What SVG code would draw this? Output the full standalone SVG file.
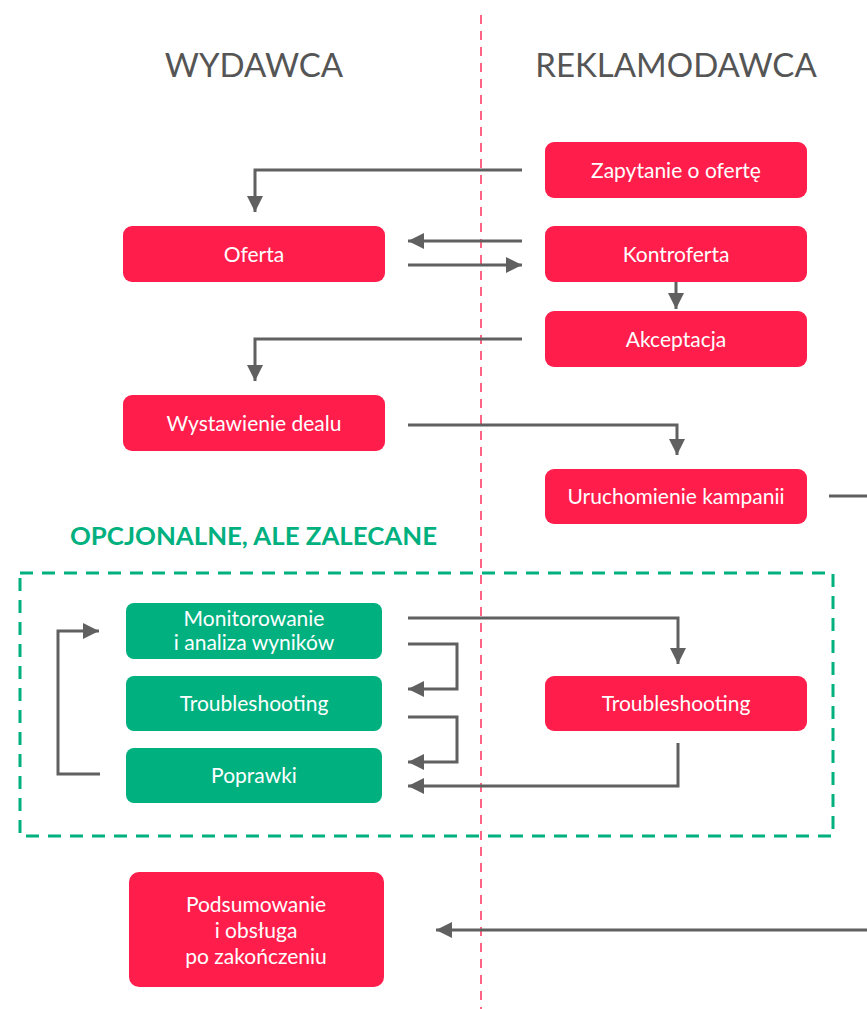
<svg xmlns="http://www.w3.org/2000/svg" width="867" height="1009" viewBox="0 0 867 1009">
<style>
.hdr{font-family:Lato,"Liberation Sans",sans-serif;font-size:33px;fill:#555;text-anchor:middle}
.red{fill:#ff1e4b}
.grn{fill:#00b07f}
.t{font-family:Lato,"Liberation Sans",sans-serif;font-size:21px;fill:#fff;text-anchor:middle}
.c{fill:none;stroke:#606060;stroke-width:3;marker-end:url(#ah)}
.cn{fill:none;stroke:#606060;stroke-width:3}
.lbl{font-family:Lato,"Liberation Sans",sans-serif;font-size:25px;font-weight:bold;fill:#00b07f}
</style>
<defs>
<marker id="ah" markerUnits="userSpaceOnUse" markerWidth="18" markerHeight="18" viewBox="0 0 18 18" refX="16" refY="9" orient="auto">
<path d="M0,1 L16,9 L0,17 Z" fill="#606060"/>
</marker>
</defs>
<rect width="867" height="1009" fill="#fff"/>
<line x1="481" y1="15" x2="481" y2="1009" stroke="#ff6484" stroke-width="2" stroke-dasharray="9,7"/>
<text class="hdr" x="254" y="77">WYDAWCA</text>
<text class="hdr" x="676" y="77">REKLAMODAWCA</text>
<text class="lbl" x="70" y="545" textLength="367" lengthAdjust="spacingAndGlyphs">OPCJONALNE, ALE ZALECANE</text>
<rect x="20" y="573" width="813" height="263" fill="none" stroke="#00b07f" stroke-width="3" stroke-dasharray="13,9"/>
<g id="connectors">
<path class="c" d="M522,170 H255 V212"/>
<path class="c" d="M522,241 H408"/>
<path class="c" d="M408,265 H522"/>
<path class="c" d="M676,282 V309"/>
<path class="c" d="M522,339 H255 V381"/>
<path class="c" d="M408,425 H677 V455"/>
<path class="cn" d="M829,496 H867"/>
<path class="c" d="M408,618 H678 V664"/>
<path class="c" d="M408,644 H457 V689 H408"/>
<path class="c" d="M408,717 H457 V762 H408"/>
<path class="c" d="M678,743 V786 H408"/>
<path class="c" d="M100,774 H58 V631 H99"/>
<path class="c" d="M867,930 H436"/>
</g>
<g id="n1"><rect class="red" x="545" y="142" width="262" height="56" rx="9"/><text class="t" x="676" y="178">Zapytanie o ofertę</text></g>
<g id="n2"><rect class="red" x="123" y="226" width="262" height="56" rx="9"/><text class="t" x="254" y="262">Oferta</text></g>
<g id="n3"><rect class="red" x="545" y="226" width="262" height="56" rx="9"/><text class="t" x="676" y="262">Kontroferta</text></g>
<g id="n4"><rect class="red" x="545" y="311" width="262" height="56" rx="9"/><text class="t" x="676" y="347">Akceptacja</text></g>
<g id="n5"><rect class="red" x="123" y="395" width="262" height="56" rx="9"/><text class="t" x="254" y="431">Wystawienie dealu</text></g>
<g id="n6"><rect class="red" x="545" y="469" width="262" height="55" rx="9"/><text class="t" x="676" y="504">Uruchomienie kampanii</text></g>
<g id="n7"><rect class="grn" x="126" y="603" width="256" height="56" rx="8"/><text class="t" x="254" y="626">Monitorowanie</text><text class="t" x="254" y="650">i analiza wyników</text></g>
<g id="n8"><rect class="grn" x="126" y="676" width="256" height="55" rx="8"/><text class="t" x="254" y="711">Troubleshooting</text></g>
<g id="n9"><rect class="grn" x="126" y="748" width="256" height="55" rx="8"/><text class="t" x="254" y="783">Poprawki</text></g>
<g id="n10"><rect class="red" x="545" y="676" width="262" height="55" rx="9"/><text class="t" x="676" y="711">Troubleshooting</text></g>
<g id="n11"><rect class="red" x="129" y="872" width="255" height="115" rx="10"/><text class="t" x="256" y="912">Podsumowanie</text><text class="t" x="256" y="938">i obsługa</text><text class="t" x="256" y="964">po zakończeniu</text></g>
</svg>
